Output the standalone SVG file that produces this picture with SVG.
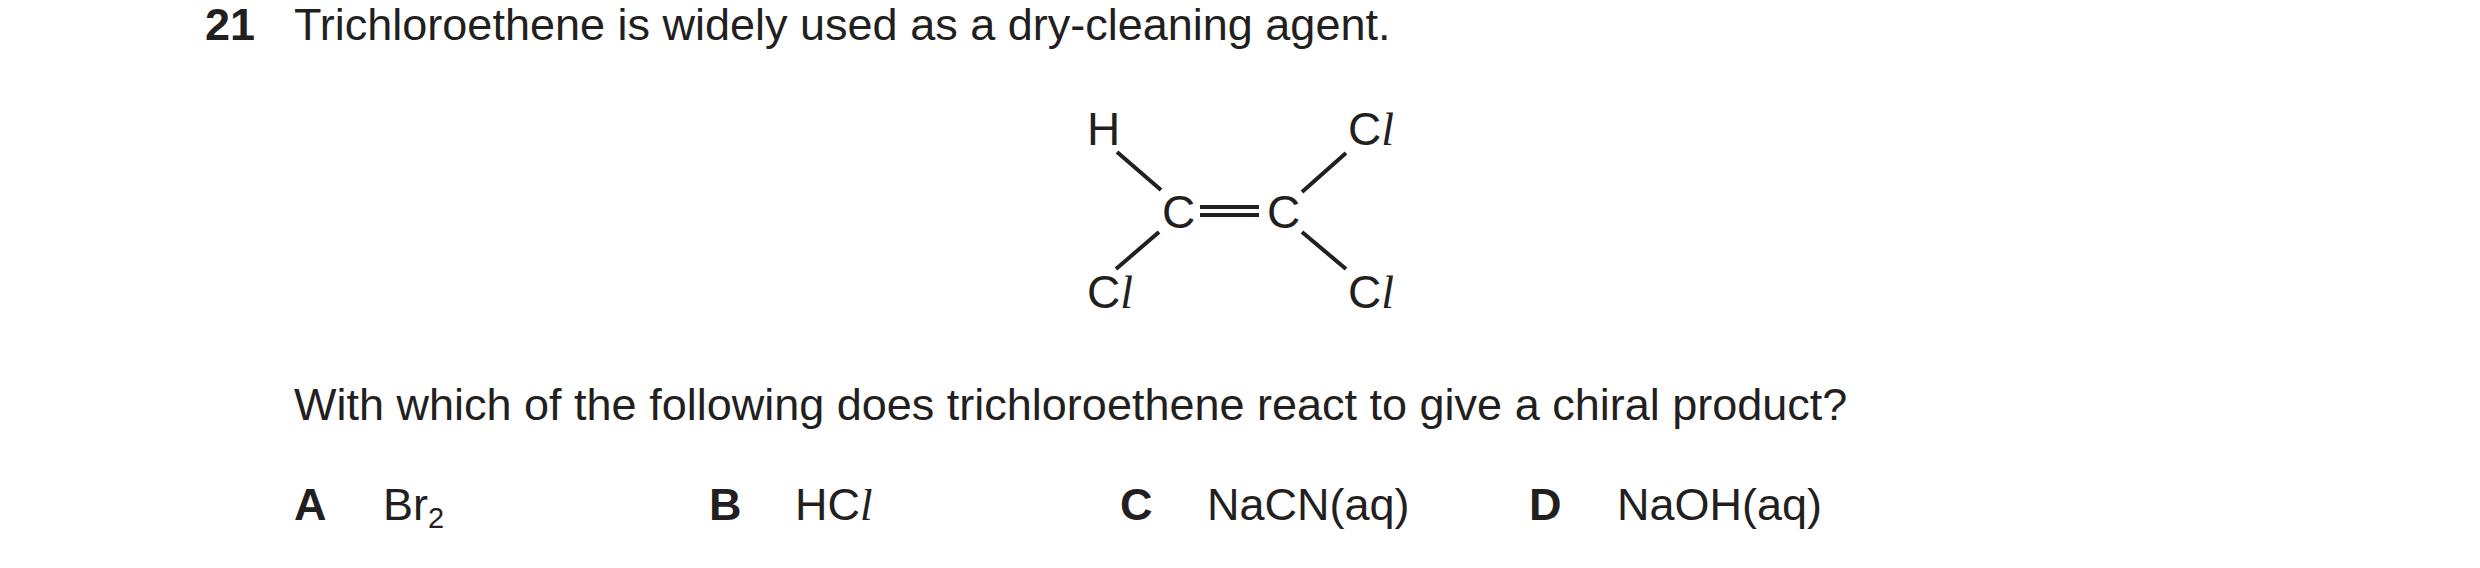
<svg xmlns="http://www.w3.org/2000/svg" width="2480" height="568" viewBox="0 0 2480 568">
<style>
text{font-family:"Liberation Sans",Arial,sans-serif;font-size:45px;fill:#231f20}
.b{font-weight:bold}
.m{font-size:46px}
.i{font-family:"Liberation Serif","Times New Roman",serif;font-style:italic}
line{stroke:#231f20;stroke-width:4}
</style>
<rect width="2480" height="568" fill="#fff"/>
<text x="205" y="40" class="b">21</text>
<text x="294" y="40">Trichloroethene is widely used as a dry-cleaning agent.</text>
<g id="atoms">
<text x="1087" y="145" class="m">H</text>
<text x="1348" y="145" class="m">C<tspan class="i">l</tspan></text>
<text x="1162" y="228" class="m">C</text>
<text x="1267" y="228" class="m">C</text>
<text x="1087" y="308" class="m">C<tspan class="i">l</tspan></text>
<text x="1348" y="308" class="m">C<tspan class="i">l</tspan></text>
</g>
<g id="bonds">
<line x1="1200" y1="207" x2="1259" y2="207"/>
<line x1="1200" y1="215" x2="1259" y2="215"/>
<line x1="1117" y1="152" x2="1161" y2="190"/>
<line x1="1159" y1="232" x2="1116" y2="269"/>
<line x1="1302" y1="192" x2="1346" y2="153"/>
<line x1="1302" y1="232" x2="1346" y2="269"/>
</g>
<text x="294" y="420">With which of the following does trichloroethene react to give a chiral product?</text>
<text x="294" y="520" class="b">A</text>
<text x="383" y="520">Br<tspan font-size="29" dy="8">2</tspan></text>
<text x="709" y="520" class="b">B</text>
<text x="795" y="520">HC<tspan class="i">l</tspan></text>
<text x="1120" y="520" class="b">C</text>
<text x="1207" y="520">NaCN(aq)</text>
<text x="1529" y="520" class="b">D</text>
<text x="1617" y="520">NaOH(aq)</text>
</svg>
